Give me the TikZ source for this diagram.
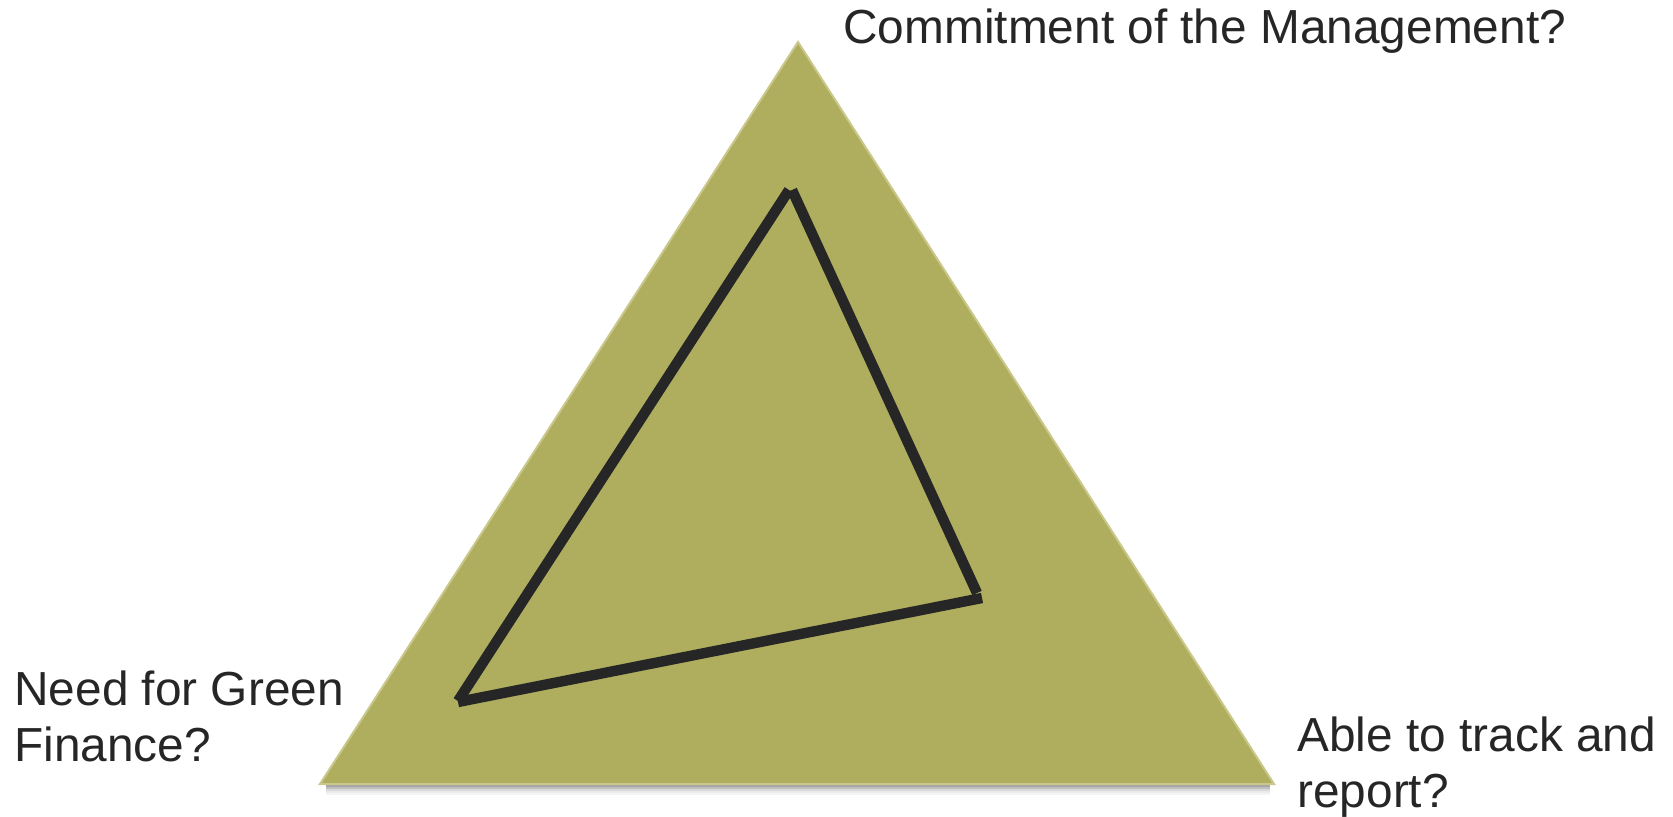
\documentclass[tikz,border=0pt]{standalone}
\usepackage{fontspec}
\setmainfont{Liberation Sans}
\definecolor{olivefill}{HTML}{AFAE5F}
\definecolor{oliveedge}{HTML}{C9C88A}
\definecolor{inkline}{HTML}{262626}
\definecolor{txt}{HTML}{262626}
\begin{document}
\begin{tikzpicture}[x=0.5pt,y=-0.5pt,
  lab/.style={inner sep=0pt, anchor=base west, text=txt, align=left,
    font=\fontsize{23.9}{28}\selectfont},
  inner/.style={draw=inkline, line width=5.2pt, line cap=butt}]
\useasboundingbox (0,0) rectangle (1673,817);
% shadow under the base
\foreach \d/\o in {2/0.35,4/0.25,6/0.15,8/0.08,10/0.04}{
  \draw[black, opacity=\o, line width=1.2pt] (326,784+\d) -- (1270,784+\d);
}
% big triangle
\coordinate (T) at (798,42);
\coordinate (L) at (320,784);
\coordinate (R) at (1274,784);
\fill[olivefill, draw=oliveedge, line width=1pt] (T) -- (R) -- (L) -- cycle;
% inner segments
\coordinate (a1) at (789,190);
\coordinate (a2) at (458,701);
\coordinate (b1) at (792,190);
\coordinate (b2) at (977,593);
\coordinate (c1) at (458,702);
\coordinate (c2) at (982,598);
\draw[inner] (a1) -- (a2);
\draw[inner] (b1) -- (b2);
\draw[inner] (c1) -- (c2);
% labels (base anchor = baseline of last line)
\node[lab] (top) at (843,44) {Commitment of the Management?};
\node[lab] (left) at (14,761) {Need for Green\\Finance?};
\node[lab] (right) at (1297,807) {Able to track and\\report?};
\end{tikzpicture}
\end{document}
